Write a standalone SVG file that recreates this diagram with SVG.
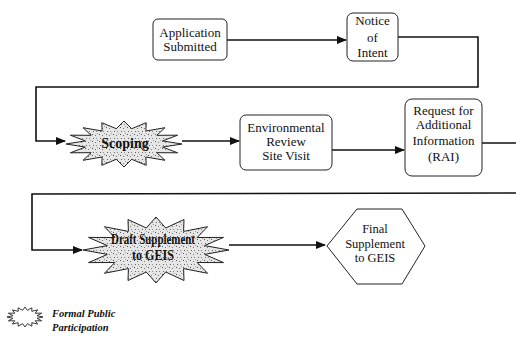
<svg xmlns="http://www.w3.org/2000/svg" width="516" height="338" viewBox="0 0 516 338">
<style>
.box{fill:#fff;stroke:#222;stroke-width:1}
.t{font-family:"Liberation Serif","Times New Roman",serif;font-size:13px;fill:#111;text-anchor:middle}
.tb{font-family:"Liberation Serif","Times New Roman",serif;font-size:14px;font-weight:bold;fill:#111;text-anchor:middle}
.star{fill:url(#stip);stroke:#222;stroke-width:1;stroke-linejoin:miter}
.conn{fill:none;stroke:#111;stroke-width:1.6}
.leg{font-family:"Liberation Serif","Times New Roman",serif;font-size:10.5px;font-weight:bold;font-style:italic;fill:#111}
</style>
<defs>
<pattern id="stip" width="7" height="7" patternUnits="userSpaceOnUse">
<rect width="7" height="7" fill="#e6e6e6"/>
<rect x="1" y="1" width="1" height="1" fill="#555"/>
<rect x="4" y="2" width="1" height="1" fill="#777"/>
<rect x="2" y="5" width="1" height="1" fill="#666"/>
<rect x="5" y="5" width="1" height="1" fill="#888"/>
<rect x="6" y="0" width="1" height="1" fill="#999"/>
</pattern>
<marker id="arr" markerWidth="10" markerHeight="8" refX="9" refY="4" orient="auto" markerUnits="userSpaceOnUse">
<path d="M0,0 L10,4 L0,8 Z" fill="#111"/>
</marker>
</defs>

<g id="connectors">
<line class="conn" x1="227" y1="40" x2="346" y2="40" marker-end="url(#arr)"/>
<polyline class="conn" points="398,37 478,37 478,87 36,87 36,141 65,141" marker-end="url(#arr)"/>
<line class="conn" x1="182" y1="141" x2="239" y2="141" marker-end="url(#arr)"/>
<line class="conn" x1="332" y1="150" x2="404" y2="150" marker-end="url(#arr)"/>
<line class="conn" x1="482" y1="143" x2="516" y2="143"/>
<polyline class="conn" points="516,193 32,194 32,250 82,250" marker-end="url(#arr)"/>
<line class="conn" x1="229" y1="245" x2="325" y2="245" marker-end="url(#arr)"/>
</g>

<g id="application-submitted">
<rect class="box" x="153" y="19" width="74" height="41" rx="5"/>
<text class="t" x="190" y="37">Application</text>
<text class="t" x="190" y="51">Submitted</text>
</g>

<g id="notice-of-intent">
<rect class="box" x="347" y="13" width="51" height="48" rx="6"/>
<text class="t" x="372.5" y="25">Notice</text>
<text class="t" x="372.5" y="42">of</text>
<text class="t" x="372.5" y="57">Intent</text>
</g>

<g id="scoping">
<polygon class="star" points="182,144 162.7,147.1 177.6,152.8 156.8,152.7 165,160.3 145.9,157 146.2,165.3 131.7,159.3 124,167 116.3,159.3 101.8,165.3 102.1,157 83,160.3 91.2,152.7 70.4,152.8 85.3,147.1 66,144 85.3,140.9 70.4,135.2 91.2,135.3 83,127.7 102.1,131 101.8,122.7 116.3,128.7 124,121 131.7,128.7 146.2,122.7 145.9,131 165,127.7 156.8,135.3 177.6,135.2 162.7,140.9"/>
<text class="tb" x="125" y="148">Scoping</text>
</g>

<g id="environmental-review">
<rect class="box" x="240" y="115" width="92" height="55" rx="6"/>
<text class="t" x="286" y="132">Environmental</text>
<text class="t" x="286" y="146">Review</text>
<text class="t" x="286" y="160">Site Visit</text>
</g>

<g id="rai">
<rect class="box" x="405" y="99" width="77" height="77" rx="7"/>
<text class="t" x="443.5" y="115">Request for</text>
<text class="t" x="443.5" y="129">Additional</text>
<text class="t" x="443.5" y="145">Information</text>
<text class="t" x="443.5" y="161">(RAI)</text>
</g>

<g id="draft-supplement">
<polygon class="star" points="229,250 204.7,254.4 223.5,262.6 197.2,262.5 207.6,273.3 183.6,268.6 184,280.5 165.7,272 156,283 146.3,272 128,280.5 128.4,268.6 104.4,273.3 114.8,262.5 88.5,262.6 107.3,254.4 83,250 107.3,245.6 88.5,237.4 114.8,237.5 104.4,226.7 128.4,231.4 128,219.5 146.3,228 156,217 165.7,228 184,219.5 183.6,231.4 207.6,226.7 197.2,237.5 223.5,237.4 204.7,245.6"/>
<text class="tb" x="153" y="244" textLength="84" lengthAdjust="spacingAndGlyphs">Draft Supplement</text>
<text class="tb" x="153" y="260" textLength="42" lengthAdjust="spacingAndGlyphs">to GEIS</text>
</g>

<g id="final-supplement">
<polygon class="box" points="327,246 357,209 402,209 425,246 402,284 357,284"/>
<text class="t" x="375" y="233" style="font-size:12.5px">Final</text>
<text class="t" x="375" y="248" style="font-size:12.5px">Supplement</text>
<text class="t" x="375" y="262" style="font-size:12.5px">to GEIS</text>
</g>

<g id="legend">
<polygon points="43,317 37,318.3 41.6,320.8 35.2,320.8 37.7,324.1 31.8,322.7 31.9,326.2 27.4,323.7 25,327 22.6,323.7 18.1,326.2 18.2,322.7 12.3,324.1 14.8,320.8 8.4,320.8 13,318.3 7,317 13,315.7 8.4,313.2 14.8,313.2 12.3,309.9 18.2,311.3 18.1,307.8 22.6,310.3 25,307 27.4,310.3 31.9,307.8 31.8,311.3 37.7,309.9 35.2,313.2 41.6,313.2 37,315.7" fill="#fff" stroke="#222" stroke-width="0.9"/>
<text class="leg" x="52" y="317">Formal Public</text>
<text class="leg" x="52" y="331">Participation</text>
</g>
</svg>
